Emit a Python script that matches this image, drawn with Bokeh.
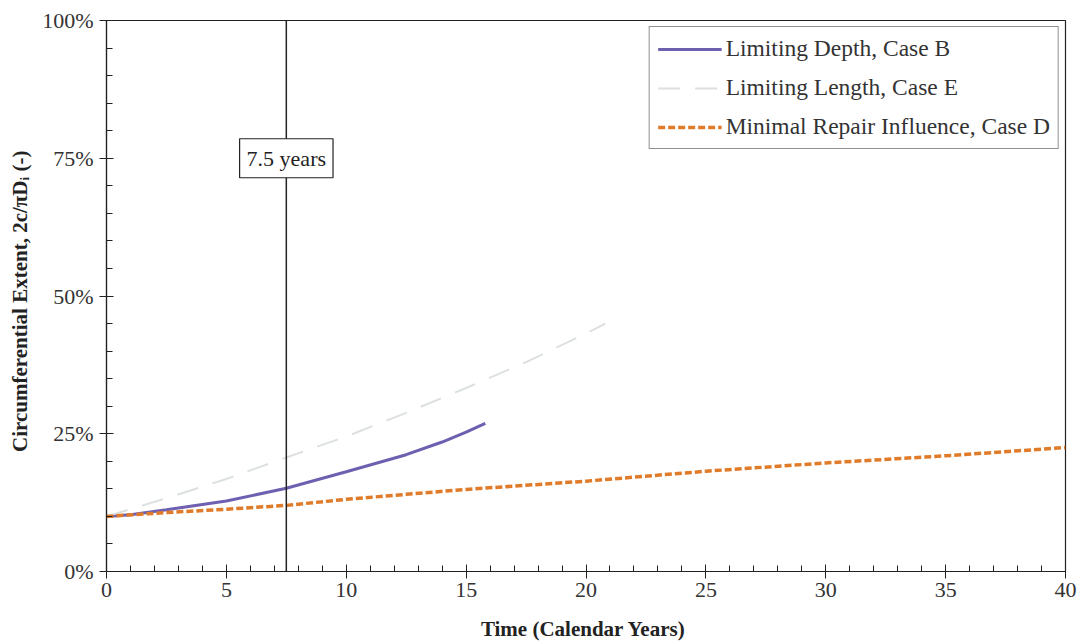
from bokeh.plotting import figure
from bokeh.models import (Span, Label, FixedTicker, PrintfTickFormatter, Legend, LegendItem, Range1d)
from bokeh.embed import file_html
from bokeh.resources import INLINE

# Data (years, circumferential extent in %)
case_b_t = [0, 1, 2.5, 5, 7.5, 10, 12.5, 14, 15, 15.8]
case_b_y = [10, 10.3, 11.2, 12.8, 15.1, 18.1, 21.2, 23.5, 25.3, 26.9]

case_e_t = [0, 2.5, 5, 7.5, 10, 12.5, 15, 17.5, 20, 20.8]
case_e_y = [10, 13.3, 16.8, 20.7, 24.5, 28.8, 33.3, 38.0, 43.2, 45.0]

case_d_t = [0, 2.5, 5, 7.5, 10, 12.5, 15, 20, 25, 30, 35, 40]
case_d_y = [10, 10.7, 11.3, 12.0, 13.1, 14.0, 14.9, 16.4, 18.2, 19.7, 21.0, 22.5]

x_ticks = [0, 5, 10, 15, 20, 25, 30, 35, 40]
y_ticks = [0, 25, 50, 75, 100]
marker_year = 7.5

FONT = "Liberation Serif"

p = figure(width=1080, height=643, output_backend="svg", toolbar_location=None,
           x_range=Range1d(0, 40), y_range=Range1d(0, 100),
           min_border_left=106, min_border_right=15, min_border_top=20, min_border_bottom=72)

p.grid.visible = False
p.outline_line_color = "#222222"
p.outline_line_width = 1.2

r_b = p.line(case_b_t, case_b_y, line_color="#6E5FB0", line_width=3)
r_e = p.line(case_e_t, case_e_y, line_color="#DCE0E0", line_width=2, line_dash="22 15")
r_d = p.line(case_d_t, case_d_y, line_color="#E07B2A", line_width=3.5, line_dash="7 3")

p.add_layout(Span(location=marker_year, dimension="height", line_color="#222222", line_width=1.5))
p.add_layout(Label(x=marker_year, y=75, text="7.5 years", text_align="center", text_baseline="middle",
                   text_font=FONT, text_font_size="22px", text_color="#222222",
                   background_fill_color="white", border_line_color="#222222", border_line_width=1.2,
                   padding=7))

for ax in (p.xaxis[0], p.yaxis[0]):
    ax.axis_line_color = "#222222"
    ax.axis_line_width = 1.2
    ax.major_tick_line_color = "#222222"
    ax.minor_tick_line_color = "#222222"
    ax.major_tick_in = 7
    ax.major_tick_out = 7
    ax.minor_tick_in = 6
    ax.minor_tick_out = 0
    ax.major_label_text_font = FONT
    ax.major_label_text_font_size = "22px"
    ax.major_label_text_color = "#333333"
    ax.axis_label_text_font = FONT
    ax.axis_label_text_font_size = "21px"
    ax.axis_label_text_font_style = "bold"
    ax.axis_label_text_color = "#222222"

p.xaxis[0].ticker = FixedTicker(ticks=x_ticks, minor_ticks=list(range(0, 41)))
p.yaxis[0].ticker = FixedTicker(ticks=y_ticks, minor_ticks=list(range(0, 101, 5)))
p.yaxis[0].formatter = PrintfTickFormatter(format="%d%%")
p.xaxis[0].axis_label = "Time (Calendar  Years)"
p.yaxis[0].axis_label = "Circumferential  Extent,  2c/πDᵢ (-)"
p.xaxis[0].major_label_standoff = 4
p.yaxis[0].major_label_standoff = 6
p.xaxis[0].axis_label_standoff = 17
p.yaxis[0].axis_label_standoff = 7

legend = Legend(items=[
    LegendItem(label="Limiting Depth, Case B", renderers=[r_b]),
    LegendItem(label="Limiting Length, Case E", renderers=[r_e]),
    LegendItem(label="Minimal Repair Influence, Case D", renderers=[r_d]),
], location="top_right")
legend.label_text_font = FONT
legend.label_text_font_size = "23.5px"
legend.label_text_color = "#333333"
legend.glyph_width = 64
legend.glyph_height = 22
legend.label_standoff = 4
legend.spacing = 12
legend.padding = 8
legend.margin = 6
legend.border_line_color = "#222222"
legend.border_line_width = 1.2
legend.background_fill_alpha = 1
p.add_layout(legend)

open("out.html", "w").write(file_html(p, INLINE))
